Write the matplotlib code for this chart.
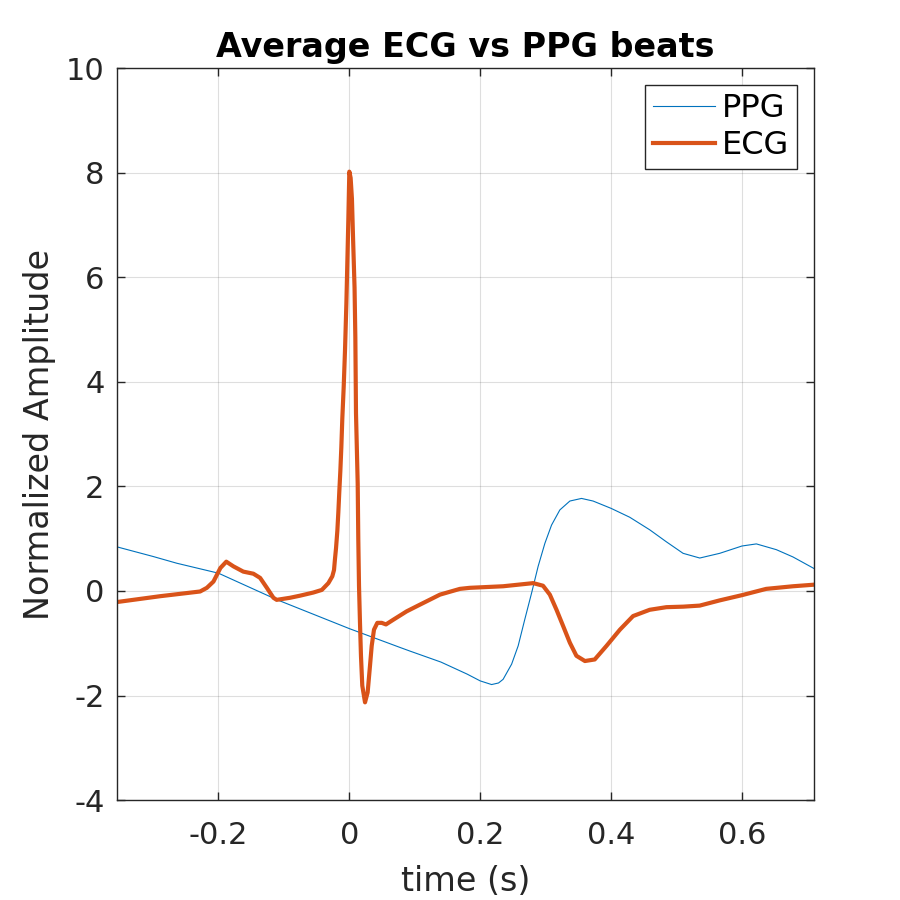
# ____________________________________________________________
# import modules

import numpy as np
import matplotlib
matplotlib.use("Agg")
import matplotlib.pyplot as plt


# ____________________________________________________________
# data (time in s, normalized amplitude)

t_ppg = [-0.354, -0.3, -0.2635, -0.2, -0.111, 0.0, 0.0774, 0.0927, 0.14,
         0.18, 0.2, 0.2174, 0.228, 0.235, 0.248, 0.258, 0.268, 0.2785,
         0.2885, 0.2988, 0.309, 0.3217, 0.337, 0.3548, 0.3725, 0.4,
         0.4285, 0.459, 0.4845, 0.51, 0.5355, 0.566, 0.6, 0.622, 0.6525,
         0.678, 0.71]
ppg = [0.84, 0.66, 0.53, 0.34, -0.165, -0.72, -1.08, -1.15, -1.36,
       -1.59, -1.72, -1.79, -1.76, -1.69, -1.40, -1.05, -0.55, -0.04,
       0.47, 0.91, 1.26, 1.55, 1.72, 1.77, 1.72, 1.58,
       1.41, 1.17, 0.94, 0.72, 0.63, 0.72, 0.86, 0.90, 0.79,
       0.65, 0.43]

t_ecg = [-0.354, -0.289, -0.228, -0.2177, -0.2076, -0.197, -0.188, -0.177,
         -0.162, -0.1466, -0.1363, -0.126, -0.116, -0.111, -0.0905, -0.0753,
         -0.055, -0.042, -0.032, -0.026, -0.0234, -0.022, -0.0203, -0.0183,
         -0.0168, -0.0153, -0.0137, -0.0122, -0.0107, -0.0086, -0.0066,
         -0.0045, -0.003, -0.0015, 0.0, 0.002, 0.004, 0.0057, 0.008, 0.0092,
         0.0102, 0.0128, 0.0137, 0.0148, 0.0163, 0.0178,
         0.0198, 0.024, 0.028, 0.0316, 0.0342, 0.0377, 0.0428, 0.0495,
         0.056, 0.0672, 0.0876, 0.105, 0.1385, 0.169, 0.184, 0.235, 0.281,
         0.296, 0.3064, 0.3166, 0.3267, 0.337, 0.347, 0.36, 0.375, 0.393,
         0.4135, 0.4336, 0.459, 0.4845, 0.5104, 0.5354, 0.566, 0.6, 0.637,
         0.678, 0.71]
ecg = [-0.21, -0.10, -0.01, 0.06, 0.18, 0.44, 0.56, 0.47,
       0.37, 0.33, 0.25, 0.06, -0.13, -0.17, -0.13, -0.09,
       -0.03, 0.02, 0.15, 0.28, 0.40, 0.60, 0.82, 1.15,
       1.50, 1.90, 2.30, 2.75, 3.30, 3.90, 4.60,
       5.50, 6.30, 7.10, 8.02, 7.90, 7.50, 6.75, 5.80, 4.85,
       3.40, 2.05, 1.00, 0.10, -0.61, -1.24,
       -1.81, -2.13, -1.94, -1.43, -1.05, -0.74, -0.61, -0.61,
       -0.64, -0.55, -0.39, -0.28, -0.07, 0.04, 0.06, 0.09, 0.15,
       0.10, -0.07, -0.36, -0.67, -0.99, -1.24, -1.34, -1.31, -1.05,
       -0.74, -0.48, -0.36, -0.31, -0.30, -0.28, -0.18, -0.08, 0.04,
       0.09, 0.12]

xticks = [-0.2, 0, 0.2, 0.4, 0.6]
xticklabels = ['-0.2', '0', '0.2', '0.4', '0.6']
yticks = [-4, -2, 0, 2, 4, 6, 8, 10]
yticklabels = ['-4', '-2', '0', '2', '4', '6', '8', '10']


# ____________________________________________________________
# plot

plt.rcParams['font.family'] = ['DejaVu Sans']
fig = plt.figure(figsize=(9, 9), dpi=100)
ax = fig.add_axes([0.13, 0.111, 0.7744, 0.8133])

ax.plot(t_ppg, ppg, color='#0072BD', lw=0.8, label='PPG')
ax.plot(t_ecg, ecg, color='#D95319', lw=3, label='ECG')

ax.set_xlim(-0.355, 0.71)
ax.set_ylim(-4, 10)
ax.set_xticks(xticks)
ax.set_xticklabels(xticklabels)
ax.set_yticks(yticks)
ax.set_yticklabels(yticklabels)
ax.tick_params(direction='in', length=6, width=1, top=True, right=True,
               labelsize=22, colors='#262626')
ax.tick_params(axis='x', pad=15)
ax.tick_params(axis='y', pad=9)
for s in ax.spines.values():
    s.set_color('#262626')
    s.set_linewidth(1)
ax.grid(True, color='#262626', alpha=0.15, lw=0.8)

ax.set_xlabel('time (s)', fontsize=24, color='#262626', labelpad=11)
ax.set_ylabel('Normalized Amplitude', fontsize=24, color='#262626', labelpad=7)
ax.set_title('Average ECG vs PPG beats', fontsize=24, fontweight='bold', pad=8)

leg = ax.legend(loc='upper right', fontsize=23, fancybox=False, framealpha=1,
                edgecolor='#262626', borderpad=0.25, handlelength=1.95,
                handletextpad=0.22, labelspacing=0.2, borderaxespad=0.52)
leg.get_frame().set_linewidth(1)

fig.savefig('out.png', dpi=100)
